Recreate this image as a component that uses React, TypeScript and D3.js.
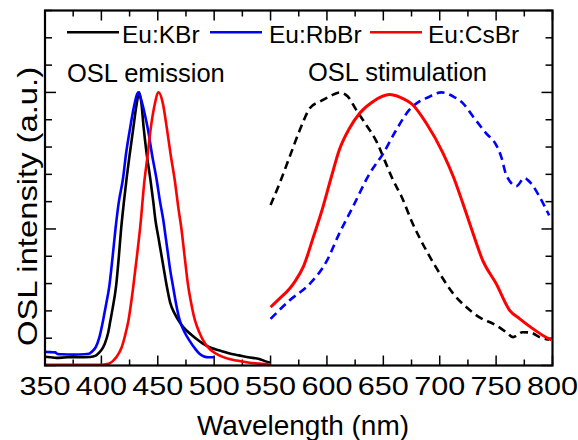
import React from 'react'
import * as d3 from 'd3'

// OSL emission spectra (nm, normalised intensity)
const emissionKBr: [number, number][] = [
  [350, 0.032], [355, 0.03], [360, 0.028], [370, 0.03], [380, 0.03], [390, 0.031], [395, 0.036],
  [398, 0.047], [401, 0.063], [403, 0.08], [406, 0.12], [408, 0.165], [410, 0.21], [413, 0.29],
  [415.5, 0.4], [417.5, 0.5], [420, 0.6], [422.5, 0.69], [425, 0.77], [428, 0.86], [431, 0.95],
  [433.5, 1.0], [435.5, 0.96], [437.5, 0.87], [440, 0.78], [443.5, 0.68], [446, 0.6], [448, 0.53],
  [450.5, 0.47], [453, 0.41], [455.5, 0.35], [458, 0.29], [461, 0.23], [465, 0.19], [470, 0.155],
  [475, 0.13], [480, 0.112], [485, 0.095], [490, 0.08], [497, 0.065], [505, 0.055], [513, 0.045],
  [522, 0.037], [530, 0.03], [540, 0.024], [545, 0.016], [550, 0.01],
]
const emissionRbBr: [number, number][] = [
  [350, 0.05], [355, 0.049], [359, 0.048], [361, 0.042], [365, 0.041], [375, 0.04], [385, 0.041],
  [389, 0.043], [392, 0.052], [395, 0.067], [398, 0.1], [401.5, 0.165], [404, 0.22], [407, 0.29],
  [410, 0.4], [412.5, 0.5], [415.5, 0.6], [419, 0.68], [422, 0.78], [425.5, 0.87], [429, 0.95],
  [432.5, 1.0], [435.5, 0.97], [438.5, 0.92], [441.5, 0.86], [445, 0.77], [449, 0.68], [452, 0.6],
  [455, 0.53], [457, 0.47], [459, 0.41], [461, 0.35], [463.5, 0.29], [466.5, 0.22], [469.5, 0.165],
  [474, 0.12], [478, 0.092], [483, 0.062], [487, 0.043], [491, 0.033], [495, 0.03], [500, 0.03],
]
const emissionCsBr: [number, number][] = [
  [350, 0.003], [380, 0.003], [400, 0.003], [405, 0.005], [408, 0.01], [410.5, 0.018], [414, 0.035],
  [418, 0.067], [421, 0.11], [424, 0.165], [428, 0.28], [431.5, 0.4], [434.5, 0.51], [438, 0.67],
  [441, 0.77], [443.5, 0.86], [447, 0.95], [450.7, 1.0], [454.5, 0.96], [458, 0.87], [461.5, 0.77],
  [465, 0.68], [468.5, 0.57], [471, 0.5], [473.5, 0.41], [477, 0.29], [480, 0.22], [483, 0.165],
  [487, 0.12], [490.5, 0.09], [496, 0.06], [502, 0.043], [510, 0.028], [520, 0.018], [530, 0.011],
  [540, 0.007], [550, 0.004],
]

// OSL stimulation spectra
const stimKBr: [number, number][] = [
  [550, 0.588], [558, 0.667], [567, 0.765], [576, 0.863], [585, 0.943], [594, 0.967], [602.5, 0.985],
  [611, 1.0], [618.5, 0.985], [626, 0.936], [635, 0.88], [644, 0.82], [651, 0.753], [658.5, 0.68],
  [666, 0.62], [676, 0.52], [688, 0.422], [700, 0.337], [712, 0.263], [723.5, 0.214], [735, 0.177],
  [750, 0.147], [759, 0.122], [765, 0.104], [773.5, 0.122], [781, 0.12], [788.5, 0.104], [797, 0.094],
]
const stimRbBr: [number, number][] = [
  [550, 0.171], [567, 0.239], [585, 0.3], [599.5, 0.38], [611, 0.484], [623, 0.581], [638, 0.704],
  [650, 0.777], [661.5, 0.863], [673, 0.936], [682, 0.967], [688, 0.979], [701.5, 1.0], [712, 0.985],
  [720.5, 0.961], [729.5, 0.912], [741, 0.851], [750, 0.808], [754.5, 0.765], [759, 0.698],
  [768, 0.657], [775, 0.686], [781, 0.667], [788.5, 0.618], [797, 0.55],
]
const stimCsBr: [number, number][] = [
  [550, 0.214], [558, 0.245], [567, 0.282], [572, 0.31], [579, 0.361], [588, 0.471], [596.5, 0.581],
  [604, 0.692], [611, 0.79], [620, 0.869], [629, 0.924], [641, 0.967], [655.5, 0.992], [665, 0.982],
  [676, 0.955], [688, 0.888], [703, 0.777], [712, 0.692], [720.5, 0.594], [729.5, 0.484], [738, 0.386],
  [750, 0.3], [762, 0.202], [771, 0.171], [782.5, 0.135], [791.5, 0.11], [799, 0.094],
]

const legendLabels = ['Eu:KBr', 'Eu:RbBr', 'Eu:CsBr']
const xTickLabels = ['350', '400', '450', '500', '550', '600', '650', '700', '750', '800']

const colors = ['#000000', '#0000ff', '#ff0000']
const font = 'Liberation Sans, Arial, sans-serif'

export default function App() {
  const width = 578
  const height = 440
  const m = { top: 10.5, right: 25.5, bottom: 74.5, left: 45 }

  const x = d3.scaleLinear().domain([350, 800]).range([m.left, width - m.right])
  const y = d3.scaleLinear().domain([0, 1.3]).range([height - m.bottom, m.top])

  const line = d3
    .line<[number, number]>()
    .x((d) => x(d[0]))
    .y((d) => y(d[1]))
    .curve(d3.curveMonotoneX)

  const x0 = m.left
  const x1 = width - m.right
  const y0 = height - m.bottom
  const y1 = m.top

  const xTicks = d3.range(350, 801, 25)
  const yTicks = d3.range(0, 14).map((i) => i / 10).filter((v) => v <= 1.3)

  const emission = [emissionKBr, emissionRbBr, emissionCsBr]
  const stimulation = [stimKBr, stimRbBr, stimCsBr]

  // legend layout: line then label
  const legendX = [67, 210, 370]
  const legendTextX = [122, 269, 428]

  return (
    <svg
      width={width}
      height={height}
      style={{ position: 'absolute', left: 0, top: 0, background: '#fff' }}
      fontFamily={font}
    >
      {/* ticks */}
      <g stroke="#000" strokeWidth={1.5}>
        {xTicks.map((t) => {
          const len = t % 50 === 0 ? 10 : 6
          return (
            <g key={'x' + t}>
              <line x1={x(t)} x2={x(t)} y1={y0} y2={y0 - len} />
              <line x1={x(t)} x2={x(t)} y1={y1} y2={y1 + len} />
            </g>
          )
        })}
        {yTicks.map((t) => {
          const major = Math.abs(t * 2 - Math.round(t * 2)) < 1e-6
          const len = major ? 11 : 7
          return (
            <g key={'y' + t}>
              <line x1={x0} x2={x0 + len} y1={y(t)} y2={y(t)} />
              <line x1={x1} x2={x1 - len} y1={y(t)} y2={y(t)} />
            </g>
          )
        })}
      </g>

      {/* curves */}
      {emission.map((d, i) => (
        <path key={'e' + i} d={line(d) || ''} fill="none" stroke={colors[i]} strokeWidth={2.6} />
      ))}
      <path d={line(stimulation[0]) || ''} fill="none" stroke={colors[0]} strokeWidth={2.6} strokeDasharray="8,5" />
      <path d={line(stimulation[1]) || ''} fill="none" stroke={colors[1]} strokeWidth={2.6} strokeDasharray="8,5" />
      <path d={line(stimulation[2]) || ''} fill="none" stroke={colors[2]} strokeWidth={3} />

      {/* frame */}
      <rect x={x0} y={y1} width={x1 - x0} height={y0 - y1} fill="none" stroke="#000" strokeWidth={2.2} />

      {/* x tick labels */}
      {xTickLabels.map((lab) => (
        <text
          key={lab}
          transform={`translate(${x(+lab)},395) scale(1.2,1)`}
          textAnchor="middle"
          fontSize={25.5}
        >
          {lab}
        </text>
      ))}

      {/* axis titles */}
      <text x={303} y={435} textAnchor="middle" fontSize={28}>
        Wavelength (nm)
      </text>
      <text transform="translate(37,206.5) rotate(-90) scale(1.17,1)" textAnchor="middle" fontSize={28}>
        OSL intensity (a.u.)
      </text>

      {/* legend */}
      {legendLabels.map((lab, i) => (
        <g key={lab}>
          <line x1={legendX[i]} x2={legendX[i] + 52} y1={32.3} y2={32.3} stroke={colors[i]} strokeWidth={2.6} />
          <text x={legendTextX[i]} y={42.7} fontSize={24.5}>
            {lab}
          </text>
        </g>
      ))}

      {/* annotations */}
      <text x={67} y={81.5} fontSize={25.5}>
        OSL emission
      </text>
      <text x={308} y={81} fontSize={25.5}>
        OSL stimulation
      </text>
    </svg>
  )
}
